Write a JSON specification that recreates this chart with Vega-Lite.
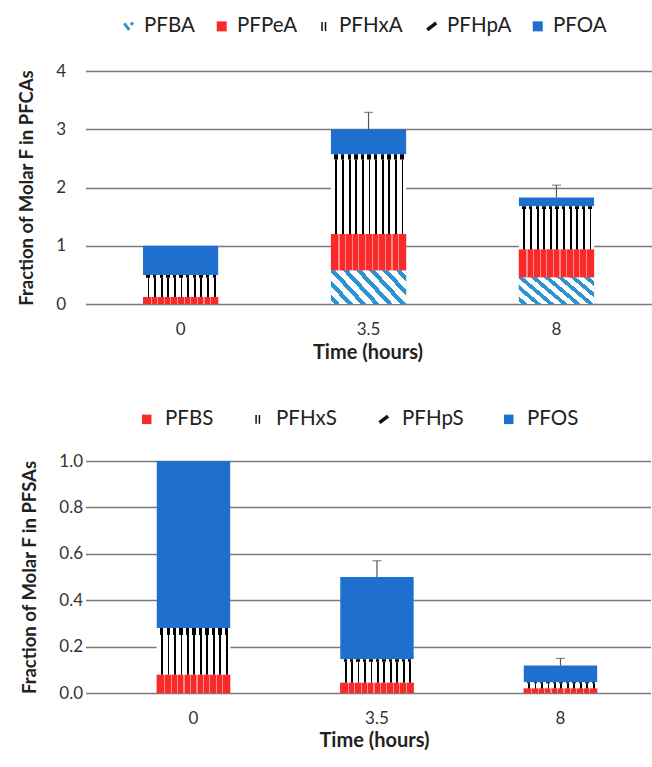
{
  "$schema": "https://vega.github.io/schema/vega-lite/v6.json",
  "padding": {"left": 17.5, "top": 16, "right": 0, "bottom": 0},
  "background": "white",
  "config": {
    "view": {"stroke": null},
    "font": "Lato",
    "axis": {"labelFont": "Lato", "titleFont": "Lato", "labelColor": "#333", "titleColor": "#222", "domain": false, "ticks": false},
    "legend": {"labelFont": "Lato"}
  },
  "datasets": {
    "pfca": [
      {"time": "0", "series": "PFBA", "order": 1, "value": 0},
      {"time": "0", "series": "PFPeA", "order": 2, "value": 0.12},
      {"time": "0", "series": "PFHxA", "order": 3, "value": 0.33},
      {"time": "0", "series": "PFHpA", "order": 4, "value": 0.05},
      {"time": "0", "series": "PFOA", "order": 5, "value": 0.5},
      {"time": "3.5", "series": "PFBA", "order": 1, "value": 0.58},
      {"time": "3.5", "series": "PFPeA", "order": 2, "value": 0.62},
      {"time": "3.5", "series": "PFHxA", "order": 3, "value": 1.28},
      {"time": "3.5", "series": "PFHpA", "order": 4, "value": 0.09},
      {"time": "3.5", "series": "PFOA", "order": 5, "value": 0.43},
      {"time": "8", "series": "PFBA", "order": 1, "value": 0.46},
      {"time": "8", "series": "PFPeA", "order": 2, "value": 0.48},
      {"time": "8", "series": "PFHxA", "order": 3, "value": 0.69},
      {"time": "8", "series": "PFHpA", "order": 4, "value": 0.05},
      {"time": "8", "series": "PFOA", "order": 5, "value": 0.15}
    ],
    "pfca_err": [
      {"time": "3.5", "v0": 3.0, "v1": 3.29},
      {"time": "8", "v0": 1.83, "v1": 2.04}
    ],
    "pfsa": [
      {"time": "0", "series": "PFBS", "order": 1, "value": 0.08},
      {"time": "0", "series": "PFHxS", "order": 2, "value": 0.17},
      {"time": "0", "series": "PFHpS", "order": 3, "value": 0.03},
      {"time": "0", "series": "PFOS", "order": 4, "value": 0.72},
      {"time": "3.5", "series": "PFBS", "order": 1, "value": 0.045},
      {"time": "3.5", "series": "PFHxS", "order": 2, "value": 0.09},
      {"time": "3.5", "series": "PFHpS", "order": 3, "value": 0.01},
      {"time": "3.5", "series": "PFOS", "order": 4, "value": 0.355},
      {"time": "8", "series": "PFBS", "order": 1, "value": 0.02},
      {"time": "8", "series": "PFHxS", "order": 2, "value": 0.022},
      {"time": "8", "series": "PFHpS", "order": 3, "value": 0.004},
      {"time": "8", "series": "PFOS", "order": 4, "value": 0.072}
    ],
    "pfsa_err": [
      {"time": "3.5", "v0": 0.5, "v1": 0.57},
      {"time": "8", "v0": 0.118, "v1": 0.149}
    ]
  },
  "vconcat": [
    {
      "width": 580,
      "height": 233,
      "encoding": {
        "x": {"field": "time", "type": "ordinal", "sort": ["0", "3.5", "8"],
              "scale": {"paddingInner": 0.6, "paddingOuter": 0.343, "align": 0.446},
              "axis": {"title": "Time (hours)", "titleX": 282, "labelAngle": 0, "labelFontSize": 17, "titleFontSize": 20, "titleFontWeight": "bold", "labelPadding": 17, "titlePadding": 5, "grid": false}},
        "y": {"field": "v1", "type": "quantitative",
              "scale": {"domain": [0, 4], "nice": false},
              "axis": {"title": "Fraction of Molar F in PFCAs", "values": [0, 1, 2, 3, 4], "labelFontSize": 17, "titleFontSize": 18.5, "titleFontWeight": "bold", "labelPadding": 20, "titlePadding": 19, "grid": true, "gridColor": "#7a7a7a", "gridWidth": 1.6}}
      },
      "layer": [
        {
          "data": {"name": "pfca"},
          "transform": [{"stack": "value", "groupby": ["time"], "sort": [{"field": "order"}], "as": ["v0", "v1"]}],
          "mark": {"type": "bar"},
          "encoding": {
            "y": {"field": "v0", "type": "quantitative"},
            "y2": {"field": "v1"},
            "color": {"field": "series", "type": "nominal",
              "scale": {"domain": ["PFBA", "PFPeA", "PFHxA", "PFHpA", "PFOA"], "range": ["#2e93cf", "#fa2a2a", "#ffffff", "#ffffff", "#1f6fcf"]},
              "legend": {"orient": "none", "legendX": 33, "legendY": -55, "direction": "horizontal", "title": null,
                "labelFontSize": 20.5, "labelColor": "#222", "symbolSize": 100, "columnPadding": 16, "labelOffset": 5,
                "encode": {"symbols": {"update": {
                  "shape": {"signal": "datum.value==='PFHxA' ? 'M-0.35,-0.9V0.9M0.35,-0.9V0.9' : datum.value==='PFHpA' ? 'M-0.9,0.7L0.9,-0.7' : datum.value==='PFBA' ? 'M-0.9,-0.6L0.1,0.7M0.4,-0.7L0.9,-0.4' : 'square'"},
                  "stroke": {"signal": "datum.value==='PFHxA' || datum.value==='PFHpA' ? '#111' : datum.value==='PFBA' ? '#2e93cf' : 'transparent'"},
                  "strokeWidth": {"signal": "datum.value==='PFHpA' ? 3.5 : datum.value==='PFBA' ? 3 : 1.5"},
                  "fill": {"signal": "datum.value==='PFPeA' ? '#fa2a2a' : datum.value==='PFOA' ? '#1f6fcf' : 'transparent'"}
                }}}}
            }
          }
        },
        {
          "data": {"name": "pfca"},
          "transform": [{"stack": "value", "groupby": ["time"], "sort": [{"field": "order"}], "as": ["v0", "v1"]}, {"filter": "datum.series === 'PFBA'"}],
          "mark": {"type": "bar", "fill": {"gradient": "linear", "x1": 0, "y1": 1, "x2": 1.2, "y2": 0.5, "stops": [
            {"offset": 0, "color": "#fff"},
            {"offset": 0.03, "color": "#fff"}, {"offset": 0.03, "color": "#2e93cf"}, {"offset": 0.085, "color": "#2e93cf"}, {"offset": 0.085, "color": "#fff"},
            {"offset": 0.155, "color": "#fff"}, {"offset": 0.155, "color": "#2e93cf"}, {"offset": 0.21, "color": "#2e93cf"}, {"offset": 0.21, "color": "#fff"},
            {"offset": 0.28, "color": "#fff"}, {"offset": 0.28, "color": "#2e93cf"}, {"offset": 0.335, "color": "#2e93cf"}, {"offset": 0.335, "color": "#fff"},
            {"offset": 0.405, "color": "#fff"}, {"offset": 0.405, "color": "#2e93cf"}, {"offset": 0.46, "color": "#2e93cf"}, {"offset": 0.46, "color": "#fff"},
            {"offset": 0.53, "color": "#fff"}, {"offset": 0.53, "color": "#2e93cf"}, {"offset": 0.585, "color": "#2e93cf"}, {"offset": 0.585, "color": "#fff"},
            {"offset": 0.655, "color": "#fff"}, {"offset": 0.655, "color": "#2e93cf"}, {"offset": 0.71, "color": "#2e93cf"}, {"offset": 0.71, "color": "#fff"},
            {"offset": 0.78, "color": "#fff"}, {"offset": 0.78, "color": "#2e93cf"}, {"offset": 0.835, "color": "#2e93cf"}, {"offset": 0.835, "color": "#fff"},
            {"offset": 0.905, "color": "#fff"}, {"offset": 0.905, "color": "#2e93cf"}, {"offset": 0.96, "color": "#2e93cf"}, {"offset": 0.96, "color": "#fff"},
            {"offset": 1, "color": "#fff"}
          ]}},
          "encoding": {"y": {"field": "v0", "type": "quantitative"}, "y2": {"field": "v1"}}
        },
        {
          "data": {"name": "pfca"},
          "transform": [{"stack": "value", "groupby": ["time"], "sort": [{"field": "order"}], "as": ["v0", "v1"]}, {"filter": "datum.series === 'PFPeA'"}],
          "mark": {"type": "bar", "fill": {"gradient": "linear", "x1": 0, "y1": 0, "x2": 1, "y2": 0, "stops": [
            {"offset": 0, "color": "#fa2a2a"},
            {"offset": 0.1, "color": "#fa2a2a"}, {"offset": 0.1, "color": "#ff8a8a"}, {"offset": 0.115, "color": "#ff8a8a"}, {"offset": 0.115, "color": "#fa2a2a"},
            {"offset": 0.188, "color": "#fa2a2a"}, {"offset": 0.188, "color": "#ff8a8a"}, {"offset": 0.203, "color": "#ff8a8a"}, {"offset": 0.203, "color": "#fa2a2a"},
            {"offset": 0.276, "color": "#fa2a2a"}, {"offset": 0.276, "color": "#ff8a8a"}, {"offset": 0.291, "color": "#ff8a8a"}, {"offset": 0.291, "color": "#fa2a2a"},
            {"offset": 0.364, "color": "#fa2a2a"}, {"offset": 0.364, "color": "#ff8a8a"}, {"offset": 0.379, "color": "#ff8a8a"}, {"offset": 0.379, "color": "#fa2a2a"},
            {"offset": 0.452, "color": "#fa2a2a"}, {"offset": 0.452, "color": "#ff8a8a"}, {"offset": 0.467, "color": "#ff8a8a"}, {"offset": 0.467, "color": "#fa2a2a"},
            {"offset": 0.54, "color": "#fa2a2a"}, {"offset": 0.54, "color": "#ff8a8a"}, {"offset": 0.555, "color": "#ff8a8a"}, {"offset": 0.555, "color": "#fa2a2a"},
            {"offset": 0.628, "color": "#fa2a2a"}, {"offset": 0.628, "color": "#ff8a8a"}, {"offset": 0.643, "color": "#ff8a8a"}, {"offset": 0.643, "color": "#fa2a2a"},
            {"offset": 0.716, "color": "#fa2a2a"}, {"offset": 0.716, "color": "#ff8a8a"}, {"offset": 0.731, "color": "#ff8a8a"}, {"offset": 0.731, "color": "#fa2a2a"},
            {"offset": 0.804, "color": "#fa2a2a"}, {"offset": 0.804, "color": "#ff8a8a"}, {"offset": 0.819, "color": "#ff8a8a"}, {"offset": 0.819, "color": "#fa2a2a"},
            {"offset": 0.892, "color": "#fa2a2a"}, {"offset": 0.892, "color": "#ff8a8a"}, {"offset": 0.907, "color": "#ff8a8a"}, {"offset": 0.907, "color": "#fa2a2a"},
            {"offset": 1, "color": "#fa2a2a"}
          ]}},
          "encoding": {"y": {"field": "v0", "type": "quantitative"}, "y2": {"field": "v1"}}
        },
        {
          "data": {"name": "pfca"},
          "transform": [{"stack": "value", "groupby": ["time"], "sort": [{"field": "order"}], "as": ["v0", "v1"]}, {"filter": "datum.series === 'PFHxA'"}],
          "mark": {"type": "bar", "fill": {"gradient": "linear", "x1": 0, "y1": 0, "x2": 1, "y2": 0, "stops": [
            {"offset": 0, "color": "#fff"},
            {"offset": 0.06, "color": "#fff"}, {"offset": 0.06, "color": "#000"}, {"offset": 0.085, "color": "#000"}, {"offset": 0.085, "color": "#fff"},
            {"offset": 0.148, "color": "#fff"}, {"offset": 0.148, "color": "#000"}, {"offset": 0.173, "color": "#000"}, {"offset": 0.173, "color": "#fff"},
            {"offset": 0.236, "color": "#fff"}, {"offset": 0.236, "color": "#000"}, {"offset": 0.261, "color": "#000"}, {"offset": 0.261, "color": "#fff"},
            {"offset": 0.324, "color": "#fff"}, {"offset": 0.324, "color": "#000"}, {"offset": 0.349, "color": "#000"}, {"offset": 0.349, "color": "#fff"},
            {"offset": 0.412, "color": "#fff"}, {"offset": 0.412, "color": "#000"}, {"offset": 0.437, "color": "#000"}, {"offset": 0.437, "color": "#fff"},
            {"offset": 0.5, "color": "#fff"}, {"offset": 0.5, "color": "#000"}, {"offset": 0.525, "color": "#000"}, {"offset": 0.525, "color": "#fff"},
            {"offset": 0.588, "color": "#fff"}, {"offset": 0.588, "color": "#000"}, {"offset": 0.613, "color": "#000"}, {"offset": 0.613, "color": "#fff"},
            {"offset": 0.676, "color": "#fff"}, {"offset": 0.676, "color": "#000"}, {"offset": 0.701, "color": "#000"}, {"offset": 0.701, "color": "#fff"},
            {"offset": 0.764, "color": "#fff"}, {"offset": 0.764, "color": "#000"}, {"offset": 0.789, "color": "#000"}, {"offset": 0.789, "color": "#fff"},
            {"offset": 0.852, "color": "#fff"}, {"offset": 0.852, "color": "#000"}, {"offset": 0.877, "color": "#000"}, {"offset": 0.877, "color": "#fff"},
            {"offset": 0.94, "color": "#fff"}, {"offset": 0.94, "color": "#000"}, {"offset": 0.965, "color": "#000"}, {"offset": 0.965, "color": "#fff"},
            {"offset": 1, "color": "#fff"}
          ]}},
          "encoding": {"y": {"field": "v0", "type": "quantitative"}, "y2": {"field": "v1"}}
        },
        {
          "data": {"name": "pfca"},
          "transform": [{"stack": "value", "groupby": ["time"], "sort": [{"field": "order"}], "as": ["v0", "v1"]}, {"filter": "datum.series === 'PFHpA'"}],
          "mark": {"type": "bar", "fill": {"gradient": "linear", "x1": 0, "y1": 0, "x2": 1, "y2": 0, "stops": [
            {"offset": 0, "color": "#fff"},
            {"offset": 0.045, "color": "#fff"}, {"offset": 0.045, "color": "#000"}, {"offset": 0.09, "color": "#000"}, {"offset": 0.09, "color": "#fff"},
            {"offset": 0.133, "color": "#fff"}, {"offset": 0.133, "color": "#000"}, {"offset": 0.178, "color": "#000"}, {"offset": 0.178, "color": "#fff"},
            {"offset": 0.221, "color": "#fff"}, {"offset": 0.221, "color": "#000"}, {"offset": 0.266, "color": "#000"}, {"offset": 0.266, "color": "#fff"},
            {"offset": 0.309, "color": "#fff"}, {"offset": 0.309, "color": "#000"}, {"offset": 0.354, "color": "#000"}, {"offset": 0.354, "color": "#fff"},
            {"offset": 0.397, "color": "#fff"}, {"offset": 0.397, "color": "#000"}, {"offset": 0.442, "color": "#000"}, {"offset": 0.442, "color": "#fff"},
            {"offset": 0.485, "color": "#fff"}, {"offset": 0.485, "color": "#000"}, {"offset": 0.53, "color": "#000"}, {"offset": 0.53, "color": "#fff"},
            {"offset": 0.573, "color": "#fff"}, {"offset": 0.573, "color": "#000"}, {"offset": 0.618, "color": "#000"}, {"offset": 0.618, "color": "#fff"},
            {"offset": 0.661, "color": "#fff"}, {"offset": 0.661, "color": "#000"}, {"offset": 0.706, "color": "#000"}, {"offset": 0.706, "color": "#fff"},
            {"offset": 0.749, "color": "#fff"}, {"offset": 0.749, "color": "#000"}, {"offset": 0.794, "color": "#000"}, {"offset": 0.794, "color": "#fff"},
            {"offset": 0.837, "color": "#fff"}, {"offset": 0.837, "color": "#000"}, {"offset": 0.882, "color": "#000"}, {"offset": 0.882, "color": "#fff"},
            {"offset": 0.925, "color": "#fff"}, {"offset": 0.925, "color": "#000"}, {"offset": 0.97, "color": "#000"}, {"offset": 0.97, "color": "#fff"},
            {"offset": 1, "color": "#fff"}
          ]}},
          "encoding": {"y": {"field": "v0", "type": "quantitative"}, "y2": {"field": "v1"}}
        },
        {
          "data": {"name": "pfca_err"},
          "mark": {"type": "rule", "color": "#555", "strokeWidth": 1.2},
          "encoding": {"y": {"field": "v0", "type": "quantitative"}, "y2": {"field": "v1"}}
        },
        {
          "data": {"name": "pfca_err"},
          "mark": {"type": "tick", "color": "#555", "size": 9, "thickness": 1.2},
          "encoding": {"y": {"field": "v1", "type": "quantitative"}}
        }
      ]
    },
    {
      "width": 565,
      "height": 232,
      "encoding": {
        "x": {"field": "time", "type": "ordinal", "sort": ["0", "3.5", "8"],
              "scale": {"paddingInner": 0.6, "paddingOuter": 0.3395, "align": 0.572},
              "axis": {"title": "Time (hours)", "titleX": 288.5, "labelAngle": 0, "labelFontSize": 17, "titleFontSize": 20, "titleFontWeight": "bold", "labelPadding": 17, "titlePadding": 4, "grid": false}},
        "y": {"field": "v1", "type": "quantitative",
              "scale": {"domain": [0, 1], "nice": false},
              "axis": {"title": "Fraction of Molar F in PFSAs", "values": [0, 0.2, 0.4, 0.6, 0.8, 1.0], "format": ".1f", "labelFontSize": 17, "titleFontSize": 18.5, "titleFontWeight": "bold", "labelPadding": 3, "titlePadding": 19.5, "grid": true, "gridColor": "#7a7a7a", "gridWidth": 1.6}}
      },
      "layer": [
        {
          "data": {"name": "pfsa"},
          "transform": [{"stack": "value", "groupby": ["time"], "sort": [{"field": "order"}], "as": ["v0", "v1"]}],
          "mark": {"type": "bar"},
          "encoding": {
            "y": {"field": "v0", "type": "quantitative"},
            "y2": {"field": "v1"},
            "color": {"field": "series", "type": "nominal",
              "scale": {"domain": ["PFBS", "PFHxS", "PFHpS", "PFOS"], "range": ["#fa2a2a", "#ffffff", "#ffffff", "#1f6fcf"]},
              "legend": {"orient": "none", "legendX": 51, "legendY": -52, "direction": "horizontal", "title": null,
                "labelFontSize": 20.5, "labelColor": "#222", "symbolSize": 90, "columnPadding": 34, "labelOffset": 8,
                "encode": {"symbols": {"update": {
                  "shape": {"signal": "datum.value==='PFHxS' ? 'M-0.35,-0.9V0.9M0.35,-0.9V0.9' : datum.value==='PFHpS' ? 'M-0.9,0.7L0.9,-0.7' : 'square'"},
                  "stroke": {"signal": "datum.value==='PFHxS' || datum.value==='PFHpS' ? '#111' : 'transparent'"},
                  "strokeWidth": {"signal": "datum.value==='PFHpS' ? 3.5 : 1.5"},
                  "fill": {"signal": "datum.value==='PFBS' ? '#fa2a2a' : datum.value==='PFOS' ? '#1f6fcf' : 'transparent'"}
                }}}}
            }
          }
        },
        {
          "data": {"name": "pfsa"},
          "transform": [{"stack": "value", "groupby": ["time"], "sort": [{"field": "order"}], "as": ["v0", "v1"]}, {"filter": "datum.series === 'PFBS'"}],
          "mark": {"type": "bar", "fill": {"gradient": "linear", "x1": 0, "y1": 0, "x2": 1, "y2": 0, "stops": [
            {"offset": 0, "color": "#fa2a2a"},
            {"offset": 0.1, "color": "#fa2a2a"}, {"offset": 0.1, "color": "#ff8a8a"}, {"offset": 0.115, "color": "#ff8a8a"}, {"offset": 0.115, "color": "#fa2a2a"},
            {"offset": 0.188, "color": "#fa2a2a"}, {"offset": 0.188, "color": "#ff8a8a"}, {"offset": 0.203, "color": "#ff8a8a"}, {"offset": 0.203, "color": "#fa2a2a"},
            {"offset": 0.276, "color": "#fa2a2a"}, {"offset": 0.276, "color": "#ff8a8a"}, {"offset": 0.291, "color": "#ff8a8a"}, {"offset": 0.291, "color": "#fa2a2a"},
            {"offset": 0.364, "color": "#fa2a2a"}, {"offset": 0.364, "color": "#ff8a8a"}, {"offset": 0.379, "color": "#ff8a8a"}, {"offset": 0.379, "color": "#fa2a2a"},
            {"offset": 0.452, "color": "#fa2a2a"}, {"offset": 0.452, "color": "#ff8a8a"}, {"offset": 0.467, "color": "#ff8a8a"}, {"offset": 0.467, "color": "#fa2a2a"},
            {"offset": 0.54, "color": "#fa2a2a"}, {"offset": 0.54, "color": "#ff8a8a"}, {"offset": 0.555, "color": "#ff8a8a"}, {"offset": 0.555, "color": "#fa2a2a"},
            {"offset": 0.628, "color": "#fa2a2a"}, {"offset": 0.628, "color": "#ff8a8a"}, {"offset": 0.643, "color": "#ff8a8a"}, {"offset": 0.643, "color": "#fa2a2a"},
            {"offset": 0.716, "color": "#fa2a2a"}, {"offset": 0.716, "color": "#ff8a8a"}, {"offset": 0.731, "color": "#ff8a8a"}, {"offset": 0.731, "color": "#fa2a2a"},
            {"offset": 0.804, "color": "#fa2a2a"}, {"offset": 0.804, "color": "#ff8a8a"}, {"offset": 0.819, "color": "#ff8a8a"}, {"offset": 0.819, "color": "#fa2a2a"},
            {"offset": 0.892, "color": "#fa2a2a"}, {"offset": 0.892, "color": "#ff8a8a"}, {"offset": 0.907, "color": "#ff8a8a"}, {"offset": 0.907, "color": "#fa2a2a"},
            {"offset": 1, "color": "#fa2a2a"}
          ]}},
          "encoding": {"y": {"field": "v0", "type": "quantitative"}, "y2": {"field": "v1"}}
        },
        {
          "data": {"name": "pfsa"},
          "transform": [{"stack": "value", "groupby": ["time"], "sort": [{"field": "order"}], "as": ["v0", "v1"]}, {"filter": "datum.series === 'PFHxS'"}],
          "mark": {"type": "bar", "fill": {"gradient": "linear", "x1": 0, "y1": 0, "x2": 1, "y2": 0, "stops": [
            {"offset": 0, "color": "#fff"},
            {"offset": 0.06, "color": "#fff"}, {"offset": 0.06, "color": "#000"}, {"offset": 0.085, "color": "#000"}, {"offset": 0.085, "color": "#fff"},
            {"offset": 0.148, "color": "#fff"}, {"offset": 0.148, "color": "#000"}, {"offset": 0.173, "color": "#000"}, {"offset": 0.173, "color": "#fff"},
            {"offset": 0.236, "color": "#fff"}, {"offset": 0.236, "color": "#000"}, {"offset": 0.261, "color": "#000"}, {"offset": 0.261, "color": "#fff"},
            {"offset": 0.324, "color": "#fff"}, {"offset": 0.324, "color": "#000"}, {"offset": 0.349, "color": "#000"}, {"offset": 0.349, "color": "#fff"},
            {"offset": 0.412, "color": "#fff"}, {"offset": 0.412, "color": "#000"}, {"offset": 0.437, "color": "#000"}, {"offset": 0.437, "color": "#fff"},
            {"offset": 0.5, "color": "#fff"}, {"offset": 0.5, "color": "#000"}, {"offset": 0.525, "color": "#000"}, {"offset": 0.525, "color": "#fff"},
            {"offset": 0.588, "color": "#fff"}, {"offset": 0.588, "color": "#000"}, {"offset": 0.613, "color": "#000"}, {"offset": 0.613, "color": "#fff"},
            {"offset": 0.676, "color": "#fff"}, {"offset": 0.676, "color": "#000"}, {"offset": 0.701, "color": "#000"}, {"offset": 0.701, "color": "#fff"},
            {"offset": 0.764, "color": "#fff"}, {"offset": 0.764, "color": "#000"}, {"offset": 0.789, "color": "#000"}, {"offset": 0.789, "color": "#fff"},
            {"offset": 0.852, "color": "#fff"}, {"offset": 0.852, "color": "#000"}, {"offset": 0.877, "color": "#000"}, {"offset": 0.877, "color": "#fff"},
            {"offset": 0.94, "color": "#fff"}, {"offset": 0.94, "color": "#000"}, {"offset": 0.965, "color": "#000"}, {"offset": 0.965, "color": "#fff"},
            {"offset": 1, "color": "#fff"}
          ]}},
          "encoding": {"y": {"field": "v0", "type": "quantitative"}, "y2": {"field": "v1"}}
        },
        {
          "data": {"name": "pfsa"},
          "transform": [{"stack": "value", "groupby": ["time"], "sort": [{"field": "order"}], "as": ["v0", "v1"]}, {"filter": "datum.series === 'PFHpS'"}],
          "mark": {"type": "bar", "fill": {"gradient": "linear", "x1": 0, "y1": 0, "x2": 1, "y2": 0, "stops": [
            {"offset": 0, "color": "#fff"},
            {"offset": 0.045, "color": "#fff"}, {"offset": 0.045, "color": "#000"}, {"offset": 0.09, "color": "#000"}, {"offset": 0.09, "color": "#fff"},
            {"offset": 0.133, "color": "#fff"}, {"offset": 0.133, "color": "#000"}, {"offset": 0.178, "color": "#000"}, {"offset": 0.178, "color": "#fff"},
            {"offset": 0.221, "color": "#fff"}, {"offset": 0.221, "color": "#000"}, {"offset": 0.266, "color": "#000"}, {"offset": 0.266, "color": "#fff"},
            {"offset": 0.309, "color": "#fff"}, {"offset": 0.309, "color": "#000"}, {"offset": 0.354, "color": "#000"}, {"offset": 0.354, "color": "#fff"},
            {"offset": 0.397, "color": "#fff"}, {"offset": 0.397, "color": "#000"}, {"offset": 0.442, "color": "#000"}, {"offset": 0.442, "color": "#fff"},
            {"offset": 0.485, "color": "#fff"}, {"offset": 0.485, "color": "#000"}, {"offset": 0.53, "color": "#000"}, {"offset": 0.53, "color": "#fff"},
            {"offset": 0.573, "color": "#fff"}, {"offset": 0.573, "color": "#000"}, {"offset": 0.618, "color": "#000"}, {"offset": 0.618, "color": "#fff"},
            {"offset": 0.661, "color": "#fff"}, {"offset": 0.661, "color": "#000"}, {"offset": 0.706, "color": "#000"}, {"offset": 0.706, "color": "#fff"},
            {"offset": 0.749, "color": "#fff"}, {"offset": 0.749, "color": "#000"}, {"offset": 0.794, "color": "#000"}, {"offset": 0.794, "color": "#fff"},
            {"offset": 0.837, "color": "#fff"}, {"offset": 0.837, "color": "#000"}, {"offset": 0.882, "color": "#000"}, {"offset": 0.882, "color": "#fff"},
            {"offset": 0.925, "color": "#fff"}, {"offset": 0.925, "color": "#000"}, {"offset": 0.97, "color": "#000"}, {"offset": 0.97, "color": "#fff"},
            {"offset": 1, "color": "#fff"}
          ]}},
          "encoding": {"y": {"field": "v0", "type": "quantitative"}, "y2": {"field": "v1"}}
        },
        {
          "data": {"name": "pfsa_err"},
          "mark": {"type": "rule", "color": "#555", "strokeWidth": 1.2},
          "encoding": {"y": {"field": "v0", "type": "quantitative"}, "y2": {"field": "v1"}}
        },
        {
          "data": {"name": "pfsa_err"},
          "mark": {"type": "tick", "color": "#555", "size": 9, "thickness": 1.2},
          "encoding": {"y": {"field": "v1", "type": "quantitative"}}
        }
      ]
    }
  ],
  "align": "none",
  "spacing": 47,
  "resolve": {"scale": {"color": "independent", "x": "independent", "y": "independent"}, "legend": {"color": "independent"}}
}
